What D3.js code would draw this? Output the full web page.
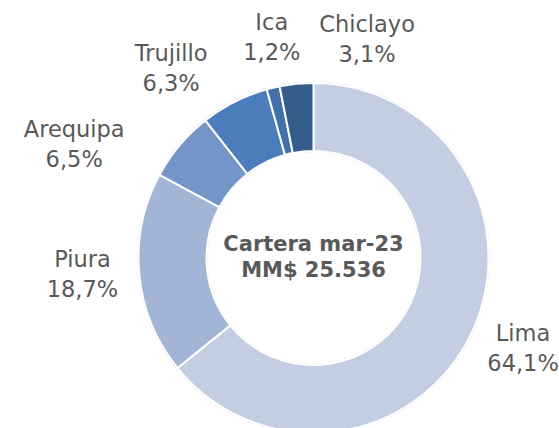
<!DOCTYPE html>
<html lang="es">
<head>
    <meta charset="UTF-8">
    <title>Cartera mar-23</title>
    <script src="https://d3js.org/d3.v7.min.js"></script>
    <style>
        body { margin: 0; background: #fff; }
        text { font-family: "DejaVu Sans", sans-serif; fill: #595959; }
    </style>
</head>
<body>
    <div id="chart"></div>
    <script>
        // data (clockwise from 12 o'clock)
        const cities = ["Lima", "Piura", "Arequipa", "Trujillo", "Ica", "Chiclayo"];
        const shares = [64.1, 18.7, 6.5, 6.3, 1.2, 3.1];
        const colors = ["#c3cee3", "#a3b5d6", "#7594c7", "#4b7cbb", "#4270ac", "#365c8c"];
        const centerLines = ["Cartera mar-23", "MM$ 25.536"];

        // label nudges from the base label radius (layout, not data)
        const nudges = [[11, -5], [-12, -4], [-71, 28], [-43, 6], [9, -7], [75, 0]];

        const width = 559, height = 428;
        const cx = 313.5, cy = 258;
        const outerR = 175, innerR = 107, labelR = 220;

        const svg = d3.select("#chart")
            .append("svg")
            .attr("width", width)
            .attr("height", height);

        const g = svg.append("g")
            .attr("transform", `translate(${cx},${cy})`);

        const pie = d3.pie().sort(null).value(d => d.value);
        const arcs = pie(cities.map((c, i) => ({ name: c, value: shares[i], color: colors[i] })));

        const arc = d3.arc().innerRadius(innerR).outerRadius(outerR);

        // faint shadow ring
        g.append("circle")
            .attr("r", outerR + 0.5)
            .attr("fill", "none")
            .attr("stroke", "#e6e6e6")
            .attr("stroke-width", 1.5);
        g.append("circle")
            .attr("r", innerR - 0.5)
            .attr("fill", "none")
            .attr("stroke", "#ececec")
            .attr("stroke-width", 1.5);

        g.selectAll(".slice")
            .data(arcs)
            .enter()
            .append("path")
            .attr("class", "slice")
            .attr("d", arc)
            .attr("fill", d => d.data.color)
            .attr("stroke", "#fff")
            .attr("stroke-width", 2);

        // outside labels
        const labels = g.selectAll(".label")
            .data(arcs)
            .enter()
            .append("text")
            .attr("class", "label")
            .attr("text-anchor", "middle")
            .attr("font-size", 22.5)
            .attr("transform", (d, i) => {
                const a = (d.startAngle + d.endAngle) / 2;
                const x = labelR * Math.sin(a) + nudges[i][0];
                const y = -labelR * Math.cos(a) + nudges[i][1];
                return `translate(${x},${y})`;
            });

        labels.append("tspan")
            .attr("x", 0)
            .attr("y", -7)
            .text(d => d.data.name);
        labels.append("tspan")
            .attr("x", 0)
            .attr("y", 23)
            .text(d => d3.format(".1f")(d.data.value).replace(".", ",") + "%");

        // center text
        g.append("text")
            .attr("text-anchor", "middle")
            .attr("font-size", 21)
            .attr("font-weight", "bold")
            .selectAll("tspan")
            .data(centerLines)
            .enter()
            .append("tspan")
            .attr("x", 0)
            .attr("y", (d, i) => -7 + i * 26)
            .text(d => d);
    </script>
</body>
</html>
